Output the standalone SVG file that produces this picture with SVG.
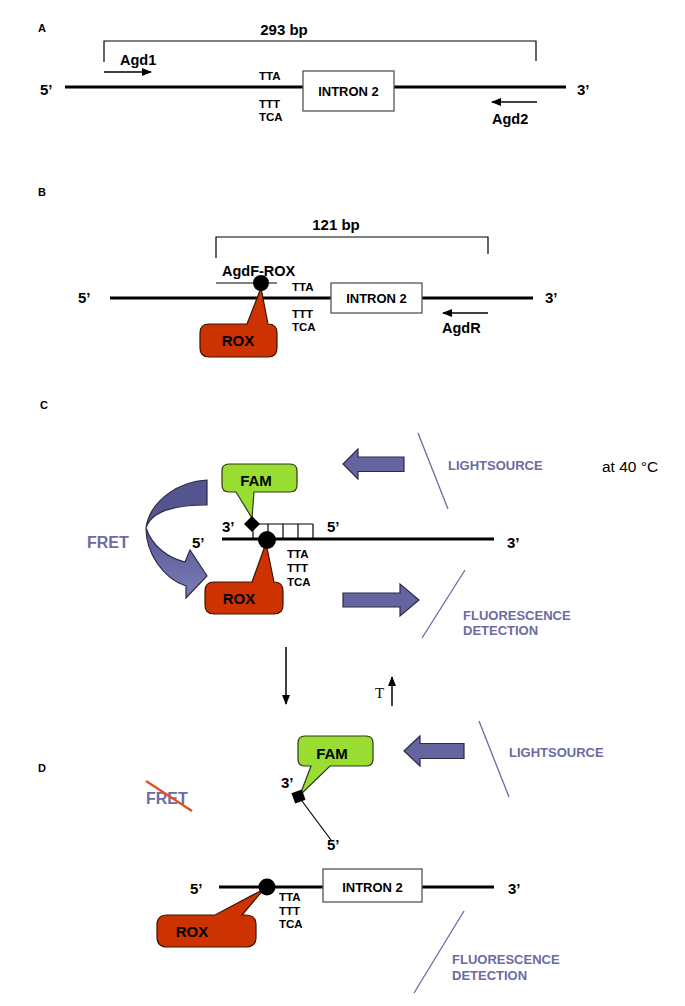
<svg xmlns="http://www.w3.org/2000/svg" width="685" height="1006" viewBox="0 0 685 1006">
<defs>
<style>
text{font-family:"Liberation Sans",Arial,sans-serif;font-weight:bold;fill:#000}
.pl{font-size:11px}
.bp{font-size:15px}
.pr{font-size:14.5px}
.end{font-size:15px}
.cod{font-size:11.5px}
.intr{font-size:13px}
.lab{font-size:15px}
.pur{fill:#6b6ba3;font-size:13px}
.fret{fill:#6b6ba3;font-size:16px}
.dna{stroke:#000;stroke-width:3;fill:none}
.thin{stroke:#000;stroke-width:1.2;fill:none}
.box{fill:#fff;stroke:#555;stroke-width:1.3}
.rox{fill:#cc3300;stroke:#3a1400;stroke-width:1.2}
.fam{fill:#99dd33;stroke:#2d3a10;stroke-width:1.2}
.bigarr{fill:#6464a0;stroke:#2b2b45;stroke-width:1.2}
.slash{stroke:#6b6ba3;stroke-width:1.3;fill:none}
.prim{stroke:#000;stroke-width:1.5;fill:none}
</style>
<marker id="ah" markerWidth="10" markerHeight="8" refX="9" refY="4" orient="auto" markerUnits="userSpaceOnUse"><path d="M0,0 L10,4 L0,8 z" fill="#000"/></marker>
<linearGradient id="cg" x1="0" y1="0" x2="0" y2="1"><stop offset="0" stop-color="#58589a"/><stop offset="1" stop-color="#7c7cb4"/></linearGradient>
</defs>
<rect width="685" height="1006" fill="#fff"/>

<!-- Panel A -->
<g id="panelA">
<text class="pl" x="38" y="32">A</text>
<text class="bp" x="284" y="35" text-anchor="middle">293 bp</text>
<path class="thin" d="M104,62 V41 H536 V61"/>
<text class="pr" x="120" y="65">Agd1</text>
<path class="dna" d="M65,87 H303 M394,87 H566"/>
<text class="end" x="40" y="95">5’</text>
<text class="end" x="577" y="95">3’</text>
<text class="cod" x="259" y="80">TTA</text>
<text class="cod" x="259" y="108">TTT</text>
<text class="cod" x="259" y="121">TCA</text>
<text class="pr" x="492" y="124">Agd2</text>
</g>
<g id="intronA">
<rect class="box" x="303" y="71" width="91" height="40"/>
<text class="intr" x="348.5" y="95.5" text-anchor="middle">INTRON 2</text>
</g>

<!-- Panel B -->
<g id="panelB">
<text class="pl" x="38" y="196">B</text>
<text class="bp" x="336" y="230" text-anchor="middle">121 bp</text>
<path class="thin" d="M216,258 V237 H488 V254"/>
<text class="pr" x="222" y="276">AgdF-ROX</text>
<path class="dna" d="M110,298 H331 M422,298 H533"/>
<line class="thin" x1="216" y1="283" x2="277" y2="283"/>
<text class="end" x="78" y="303">5’</text>
<text class="end" x="545" y="303">3’</text>
<text class="cod" x="292" y="291">TTA</text>
<text class="cod" x="292" y="318">TTT</text>
<text class="cod" x="292" y="331">TCA</text>
<text class="pr" x="442" y="333">AgdR</text>
</g>
<g id="intronB">
<rect class="box" x="331" y="283" width="91" height="30"/>
<text class="intr" x="376.5" y="303" text-anchor="middle">INTRON 2</text>
</g>
<g id="roxB">
<path class="rox" d="M209,324 H247 L261,288 L268,324 Q277,324 277,333 V348 Q277,357 268,357 H209 Q200,357 200,348 V333 Q200,324 209,324 Z"/>
<circle cx="261" cy="283" r="8" fill="#000"/>
<text class="lab" x="238" y="346" text-anchor="middle">ROX</text>
</g>

<!-- Panel C -->
<g id="panelC">
<text class="pl" x="40" y="409">C</text>
<path class="dna" d="M222,539 H494"/>
<path class="thin" d="M252,524 H313 M253,524 V539 M268,524 V539 M283,524 V539 M298,524 V539 M313,524 V539"/>
<text class="end" x="222" y="532">3’</text>
<text class="end" x="192" y="548">5’</text>
<text class="end" x="327" y="532">5’</text>
<text class="end" x="507" y="548">3’</text>
<text class="cod" x="287" y="558">TTA</text>
<text class="cod" x="287" y="572">TTT</text>
<text class="cod" x="287" y="586">TCA</text>
</g>
<g id="famC">
<path class="fam" d="M229,464 H290 Q297,464 297,471 V485 Q297,492 290,492 H254 L252,518 L236,492 H229 Q222,492 222,485 V471 Q222,464 229,464 Z"/>
<polygon points="252,516 260,524 252,532 244,524" fill="#000"/>
<text class="lab" x="256" y="486" text-anchor="middle">FAM</text>
</g>
<g id="roxC">
<path class="rox" d="M214,582 H252 L266,543 L274,582 Q283,582 283,591 V605 Q283,614 274,614 H214 Q205,614 205,605 V591 Q205,582 214,582 Z"/>
<circle cx="267" cy="540" r="9" fill="#000"/>
<text class="lab" x="239" y="603.5" text-anchor="middle">ROX</text>
</g>
<g id="fretC">
<path d="M207,480 C180,481 150,500 146,528 C150,515 166,505 207,505 Z" fill="#54548e" stroke="#2b2b45" stroke-width="1.2"/>
<path d="M146,528 C146,552 162,578 186,586 L186,598 L207,576 L190,550 L185,562 C168,558 152,546 146,528 Z" fill="url(#cg)" stroke="#2b2b45" stroke-width="1.2"/>
<text class="fret" x="87" y="547.5">FRET</text>
</g>
<g id="lightC">
<polygon class="bigarr" points="343,464 358,449 358,457 404,457 404,471.5 358,471.5 358,479"/>
<line class="slash" x1="418" y1="433" x2="448" y2="509"/>
<text class="pur" x="448" y="469.5">LIGHTSOURCE</text>
</g>
<g id="tempC">
<text x="602" y="472" style="font-weight:normal;font-size:15.5px">at 40 °C</text>
</g>
<g id="detectC">
<polygon class="bigarr" points="343,593 400,593 400,584 419,600 400,616 400,607 343,607"/>
<line class="slash" x1="465" y1="570" x2="422" y2="638"/>
<text class="pur" x="463" y="619.5">FLUORESCENCE</text>
<text class="pur" x="463" y="635">DETECTION</text>
</g>

<!-- Panel D -->
<g id="panelD">
<text class="pl" x="38" y="772">D</text>
<path class="dna" d="M219,887 H323 M422,887 H494"/>
<text class="end" x="190" y="894">5’</text>
<text class="end" x="508" y="894">3’</text>
<text class="cod" x="279" y="901">TTA</text>
<text class="cod" x="279" y="914.5">TTT</text>
<text class="cod" x="279" y="928">TCA</text>
</g>
<g id="intronD">
<rect class="box" x="323" y="869" width="99" height="33"/>
<text class="intr" x="372.5" y="891.5" text-anchor="middle">INTRON 2</text>
</g>
<g id="probeD">
<line class="thin" x1="299" y1="797" x2="331" y2="840"/>
<path class="fam" d="M305,736 H366 Q373,736 373,743 V759 Q373,766 366,766 H330 L300,795 L311,766 H305 Q298,766 298,759 V743 Q298,736 305,736 Z"/>
<rect x="293" y="791" width="11" height="11" fill="#000" transform="rotate(-20 298.5 796.5)"/>
<text class="lab" x="332" y="759" text-anchor="middle">FAM</text>
<text class="end" x="281" y="788">3’</text>
<text class="end" x="327" y="850">5’</text>
</g>
<g id="roxD">
<path class="rox" d="M167,915 H215 L264,889 L242,915 H246 Q256,915 256,925 V937 Q256,947 246,947 H167 Q157,947 157,937 V925 Q157,915 167,915 Z"/>
<circle cx="267" cy="887" r="8.5" fill="#000"/>
<text class="lab" x="192" y="937" text-anchor="middle">ROX</text>
</g>
<g id="noFretD">
<text class="fret" x="146" y="804">FRET</text>
<line x1="146" y1="781" x2="192" y2="811" stroke="#dd5522" stroke-width="2.5"/>
</g>
<g id="lightD">
<polygon class="bigarr" points="404,751 420,736 420,743.5 464,743.5 464,758.5 420,758.5 420,766"/>
<line class="slash" x1="479" y1="721" x2="509" y2="797"/>
<text class="pur" x="509" y="756.5">LIGHTSOURCE</text>
</g>
<g id="detectD">
<line class="slash" x1="464" y1="911" x2="414" y2="993"/>
<text class="pur" x="452" y="964">FLUORESCENCE</text>
<text class="pur" x="452" y="980">DETECTION</text>
</g>
<g id="tempUp">
<text x="375" y="698" style="font-family:'Liberation Serif',serif;font-weight:normal;font-size:15px">T</text>
</g>

<!-- connectors -->
<g id="connectors">
<line class="prim" x1="104" y1="72" x2="151" y2="72" marker-end="url(#ah)"/>
<line class="prim" x1="537" y1="102" x2="492" y2="102" marker-end="url(#ah)"/>
<line class="prim" x1="488" y1="313" x2="443" y2="313" marker-end="url(#ah)"/>
<line class="prim" x1="286" y1="647" x2="286" y2="704" marker-end="url(#ah)"/>
<line class="prim" x1="392" y1="706" x2="392" y2="677" marker-end="url(#ah)"/>
</g>
</svg>
